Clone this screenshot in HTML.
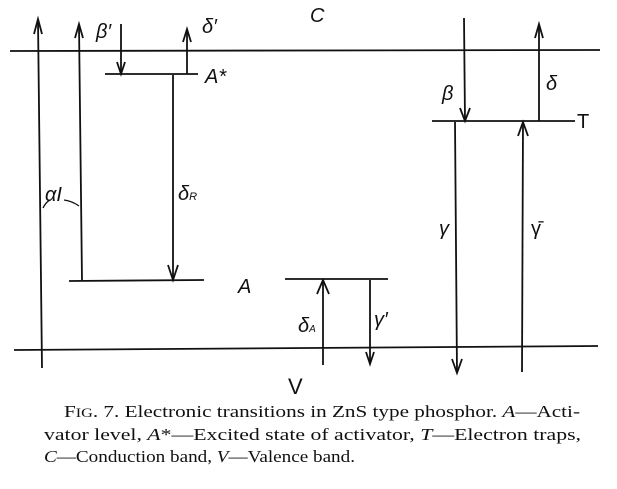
<!DOCTYPE html>
<html><head><style>html,body{margin:0;padding:0;background:#fff;}svg{display:block;}</style></head>
<body>
<svg width="617" height="489" viewBox="0 0 617 489" xmlns="http://www.w3.org/2000/svg">
<g stroke="#111" stroke-width="1.8" fill="none">
<line x1="10" y1="51" x2="600" y2="50"/>
<line x1="14" y1="350" x2="598" y2="346"/>
<line x1="105" y1="74" x2="198" y2="74"/>
<line x1="69" y1="281" x2="204" y2="280"/>
<line x1="285" y1="279" x2="388" y2="279"/>
<line x1="432" y1="121" x2="575" y2="121"/>
<line x1="42" y1="368" x2="38" y2="20"/><polyline points="34,34 38,19 42,34"/>
<line x1="82" y1="281" x2="79" y2="25"/><polyline points="75,38 79,24 83,38"/>
<line x1="121" y1="24" x2="121" y2="74"/><polyline points="117,62 121,74 125,62"/>
<line x1="187" y1="74" x2="187" y2="30"/><polyline points="183,42 187,29 191,42"/>
<line x1="173" y1="75" x2="173" y2="280"/><polyline points="168,265 173,280 178,265"/>
<line x1="323" y1="365" x2="323" y2="281"/><polyline points="317,294 323,280 329,294"/>
<line x1="370" y1="280" x2="370" y2="364"/><polyline points="366,352 370,364 374,352"/>
<line x1="464" y1="18" x2="465" y2="121"/><polyline points="460,108 465,121 470,108"/>
<line x1="539" y1="121" x2="539" y2="25"/><polyline points="535,38 539,24 543,38"/>
<line x1="455" y1="122" x2="457" y2="373"/><polyline points="452,359 457,373 462,359"/>
<line x1="522" y1="372" x2="523" y2="122"/><polyline points="518,136 523,122 528,136"/>
<path d="M43,208 Q46,202 50,200" stroke-width="1.3"/>
<path d="M64,200 Q72,201 79,206" stroke-width="1.3"/>
</g>
<g font-family="Liberation Sans, sans-serif" font-style="italic" fill="#111" font-size="20">
<text x="310" y="22">C</text>
<text x="96" y="38">β′</text>
<text x="202" y="33">δ′</text>
<text x="205" y="83">A*</text>
<text x="45" y="201">αI</text>
<text x="178" y="200">δ<tspan font-size="11">R</tspan></text>
<text x="238" y="293">A</text>
<text x="288" y="394" font-style="normal" font-size="22">V</text>
<text x="442" y="100">β</text>
<text x="546" y="90">δ</text>
<text x="577" y="128" font-style="normal">T</text>
<text x="439" y="235">γ</text>
<text x="531" y="235" font-style="normal">γ̄</text>
<text x="298" y="332">δ<tspan font-size="10">A</tspan></text>
<text x="374" y="326">γ′</text>
</g>
<g font-family="Liberation Serif, serif" font-size="17" fill="#111">
<text x="64" y="417" textLength="516" lengthAdjust="spacingAndGlyphs">F<tspan font-size="13">IG</tspan>. 7. Electronic transitions in ZnS type phosphor. <tspan font-style="italic">A</tspan>—Acti-</text>
<text x="44" y="440" textLength="537" lengthAdjust="spacingAndGlyphs">vator level, <tspan font-style="italic">A</tspan>*—Excited state of activator, <tspan font-style="italic">T</tspan>—Electron traps,</text>
<text x="44" y="462" textLength="311" lengthAdjust="spacingAndGlyphs"><tspan font-style="italic">C</tspan>—Conduction band, <tspan font-style="italic">V</tspan>—Valence band.</text>
</g>
</svg>
</body></html>
